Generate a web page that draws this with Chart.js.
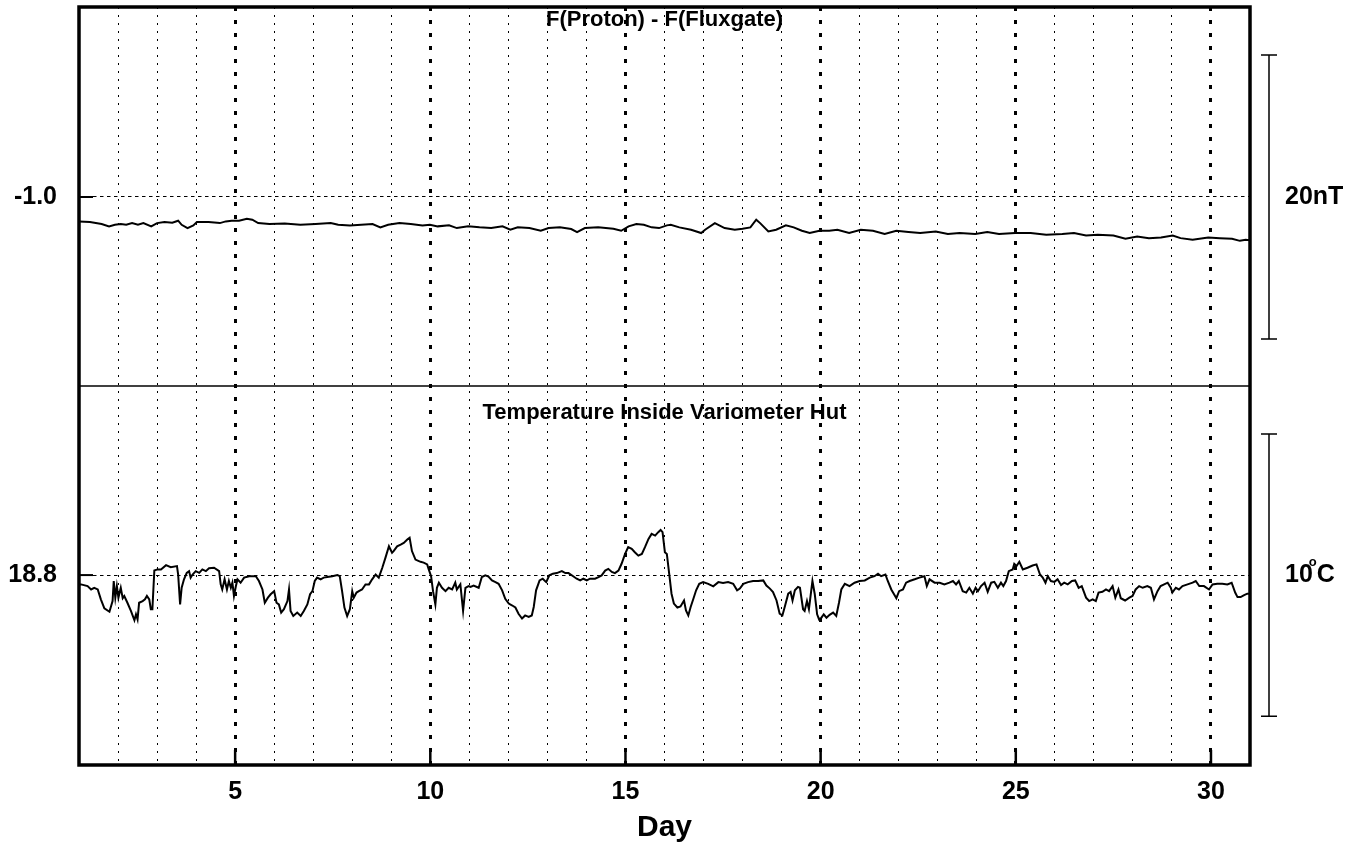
<!DOCTYPE html>
<html>
<head>
<meta charset="utf-8">
<script src="https://cdn.jsdelivr.net/npm/chart.js@4.4.1/dist/chart.umd.min.js"></script>
<style>
  html, body { margin: 0; padding: 0; background: #fff; }
  #caixa { width: 1356px; height: 848px; }
</style>
</head>
<body>
<div id="caixa"><canvas id="grafico"></canvas></div>
<script>
// F(Proton) - F(Fluxgate), nT
const diasFluxo = [
  1.00, 1.28, 1.58, 1.77, 1.92, 2.07, 2.21, 2.36, 2.51, 2.65,
  2.85, 3.00, 3.19, 3.39, 3.54, 3.63, 3.78, 3.93, 4.02, 4.32,
  4.61, 4.76, 4.91, 5.10, 5.30, 5.44, 5.59, 5.88, 6.27, 6.67,
  7.06, 7.45, 7.64, 7.94, 8.23, 8.52, 8.72, 8.92, 9.21, 9.50,
  9.80, 9.99, 10.19, 10.48, 10.68, 10.97, 11.26, 11.56, 11.85, 12.05,
  12.24, 12.54, 12.83, 13.03, 13.32, 13.61, 13.76, 13.96, 14.30, 14.69,
  14.89, 15.08, 15.28, 15.47, 15.67, 15.86, 16.06, 16.16, 16.38, 16.68,
  16.94, 17.04, 17.29, 17.54, 17.80, 18.00, 18.20, 18.35, 18.45, 18.66,
  18.86, 19.11, 19.31, 19.52, 19.72, 19.97, 20.22, 20.43, 20.73, 21.03,
  21.34, 21.64, 21.94, 22.25, 22.55, 22.95, 23.26, 23.56, 23.96, 24.27,
  24.57, 24.98, 25.38, 25.78, 26.19, 26.49, 26.80, 27.10, 27.50, 27.81,
  28.11, 28.41, 28.72, 29.02, 29.22, 29.53, 29.93, 30.23, 30.54, 30.74, 30.89, 31.00
];
const difFluxo = [
  -2.72, -2.77, -2.91, -3.07, -2.96, -2.91, -2.96, -2.84, -2.96, -2.84,
  -3.07, -2.84, -2.77, -2.81, -2.67, -2.96, -3.19, -3.00, -2.77, -2.77,
  -2.84, -2.72, -2.67, -2.67, -2.53, -2.60, -2.84, -2.91, -2.86, -2.96,
  -2.91, -2.84, -2.96, -3.00, -2.96, -2.91, -3.14, -2.96, -2.84, -2.91,
  -3.00, -2.96, -3.07, -3.00, -3.19, -3.07, -3.14, -3.19, -3.07, -3.31,
  -3.14, -3.19, -3.38, -3.19, -3.14, -3.26, -3.47, -3.19, -3.14, -3.24,
  -3.38, -3.07, -2.91, -2.96, -3.14, -3.19, -3.00, -2.96, -3.14, -3.31,
  -3.54, -3.31, -2.84, -3.19, -3.31, -3.24, -3.14, -2.60, -2.84, -3.43,
  -3.31, -3.00, -3.14, -3.38, -3.54, -3.38, -3.38, -3.31, -3.54, -3.31,
  -3.38, -3.61, -3.38, -3.47, -3.54, -3.43, -3.61, -3.54, -3.61, -3.47,
  -3.61, -3.54, -3.54, -3.66, -3.61, -3.54, -3.71, -3.66, -3.71, -3.94,
  -3.78, -3.90, -3.85, -3.71, -3.90, -4.02, -3.85, -3.90, -3.94, -4.09, -4.02, -4.05
];

// Temperature inside variometer hut, deg C
const diasTemp = [
  1.00, 1.05, 1.22, 1.31, 1.39, 1.48, 1.56, 1.65, 1.78, 1.86,
  1.89, 1.93, 1.97, 2.01, 2.07, 2.12, 2.16, 2.24, 2.33, 2.42,
  2.46, 2.50, 2.54, 2.63, 2.69, 2.74, 2.80, 2.84, 2.88, 2.93,
  3.01, 3.10, 3.23, 3.35, 3.51, 3.54, 3.59, 3.63, 3.69, 3.76,
  3.82, 3.86, 3.91, 3.99, 4.08, 4.16, 4.25, 4.33, 4.46, 4.59,
  4.63, 4.67, 4.73, 4.79, 4.84, 4.89, 4.93, 4.97, 5.02, 5.06,
  5.14, 5.23, 5.36, 5.53, 5.61, 5.70, 5.76, 5.84, 5.91, 6.00,
  6.06, 6.12, 6.18, 6.25, 6.34, 6.38, 6.42, 6.49, 6.59, 6.68,
  6.76, 6.85, 6.92, 6.98, 7.04, 7.10, 7.19, 7.27, 7.36, 7.49,
  7.62, 7.68, 7.74, 7.80, 7.87, 7.94, 8.00, 8.04, 8.11, 8.17,
  8.25, 8.34, 8.43, 8.51, 8.60, 8.68, 8.77, 8.85, 8.94, 9.02,
  9.06, 9.15, 9.24, 9.32, 9.41, 9.47, 9.53, 9.62, 9.75, 9.83,
  9.92, 9.96, 10.02, 10.07, 10.13, 10.17, 10.22, 10.30, 10.39, 10.47,
  10.56, 10.64, 10.68, 10.77, 10.84, 10.90, 10.98,
  11.03, 11.11, 11.24, 11.32, 11.41, 11.49, 11.58, 11.67, 11.75, 11.84,
  11.92, 12.01, 12.09, 12.18, 12.26, 12.35, 12.43, 12.52, 12.60, 12.65,
  12.71, 12.80, 12.88, 12.97, 13.05, 13.14, 13.24, 13.37, 13.46, 13.54,
  13.67, 13.75, 13.84, 13.92, 14.01, 14.09, 14.22, 14.31, 14.39, 14.48,
  14.56, 14.65, 14.73, 14.82, 14.90, 14.99, 15.07, 15.16, 15.24, 15.33,
  15.42, 15.50, 15.59, 15.67, 15.76, 15.84, 15.90, 15.95, 16.01, 16.06,
  16.12, 16.18, 16.24, 16.33, 16.41, 16.50, 16.55, 16.61, 16.67, 16.74,
  16.81, 16.89, 16.99, 17.12, 17.25, 17.38, 17.50, 17.63, 17.76, 17.86,
  17.93, 18.02, 18.14, 18.27, 18.40, 18.53, 18.61, 18.70, 18.78, 18.87,
  18.95, 19.02, 19.08, 19.17, 19.23, 19.28, 19.34, 19.42,
  19.47, 19.55, 19.59, 19.65, 19.70, 19.79, 19.85, 19.91, 19.96, 20.02,
  20.08, 20.15, 20.23, 20.32, 20.40, 20.47, 20.53, 20.62, 20.74, 20.87,
  21.00, 21.13, 21.26, 21.38, 21.47, 21.55, 21.66, 21.72, 21.81, 21.94,
  22.01, 22.11, 22.19, 22.28, 22.41, 22.53, 22.66, 22.72, 22.79, 22.92,
  23.05, 23.17, 23.30, 23.39, 23.47, 23.54, 23.64, 23.73, 23.81, 23.90,
  23.97, 24.03, 24.11, 24.20, 24.28, 24.37, 24.45, 24.54, 24.62, 24.68,
  24.75, 24.82, 24.92, 24.96, 25.02, 25.09, 25.18, 25.30, 25.43, 25.53,
  25.62, 25.69, 25.76, 25.82, 25.90, 25.99, 26.07, 26.16, 26.24, 26.33,
  26.44, 26.52, 26.61, 26.69, 26.80, 26.88, 26.97, 27.05, 27.12, 27.22,
  27.31, 27.39, 27.48, 27.55, 27.63, 27.69, 27.80, 27.91, 27.99, 28.07,
  28.16, 28.25, 28.37, 28.46, 28.54, 28.63, 28.71, 28.80, 28.89, 28.97,
  29.01, 29.10, 29.18, 29.27, 29.40, 29.53, 29.61, 29.70, 29.82, 29.95,
  30.04, 30.16, 30.29, 30.42, 30.53, 30.62, 30.68, 30.76, 30.85, 30.93, 31.00
];
const tempCasa = [
  18.47, 18.47, 18.41, 18.29, 18.35, 18.29, 17.94, 17.62, 17.50, 17.88,
  18.59, 18.00, 18.41, 18.00, 18.35, 17.98, 18.06, 17.82, 17.53, 17.20,
  17.41, 17.23, 17.82, 17.88, 17.94, 18.06, 17.94, 17.59, 17.59, 18.96,
  19.00, 19.00, 19.15, 19.08, 19.12, 18.82, 17.76, 18.35, 18.65, 18.88,
  18.94, 18.71, 18.82, 18.94, 18.88, 19.00, 18.94, 19.04, 19.06, 18.94,
  18.47, 18.29, 18.65, 18.29, 18.59, 18.35, 18.53, 18.06, 18.41, 18.65,
  18.53, 18.71, 18.76, 18.76, 18.59, 18.29, 17.82, 18.00, 18.12, 18.23,
  17.82, 17.76, 17.47, 17.59, 17.88, 18.29, 17.53, 17.35, 17.47, 17.35,
  17.53, 17.76, 18.12, 18.23, 18.59, 18.71, 18.65, 18.71, 18.73, 18.76,
  18.80, 18.76, 18.23, 17.65, 17.35, 17.59, 18.23, 18.00, 18.18, 18.23,
  18.29, 18.47, 18.47, 18.65, 18.82, 18.71, 19.06, 19.41, 19.82, 19.59,
  19.65, 19.82, 19.88, 19.94, 20.06, 20.12, 19.65, 19.35, 19.27, 19.24,
  19.18, 19.00, 18.76, 18.23, 17.76, 18.35, 18.53, 18.35, 18.23, 18.35,
  18.29, 18.53, 18.29, 18.47, 17.53, 18.35, 18.41,
  18.38, 18.43, 18.35, 18.73, 18.79, 18.75, 18.61, 18.55, 18.49, 18.26,
  17.96, 17.79, 17.73, 17.65, 17.43, 17.26, 17.37, 17.32, 17.37, 17.67,
  18.26, 18.61, 18.67, 18.55, 18.79, 18.85, 18.87, 18.94, 18.87, 18.87,
  18.75, 18.67, 18.61, 18.67, 18.61, 18.67, 18.67, 18.73, 18.79, 18.96,
  19.02, 18.91, 18.87, 18.96, 19.20, 19.55, 19.79, 19.73, 19.61, 19.49,
  19.55, 19.79, 20.08, 20.26, 20.20, 20.32, 20.40, 20.32, 19.61, 19.55,
  18.85, 18.14, 17.79, 17.65, 17.69, 17.90, 17.55, 17.37, 17.67, 17.96,
  18.26, 18.49, 18.55, 18.49, 18.40, 18.55, 18.52, 18.55, 18.49, 18.26,
  18.32, 18.49, 18.55, 18.59, 18.59, 18.61, 18.43, 18.32, 18.20, 17.90,
  17.43, 17.37, 17.67, 18.14, 18.20, 17.90, 18.26, 18.38,
  18.35, 17.59, 17.53, 17.88, 17.59, 18.59, 18.12, 17.41, 17.23, 17.29,
  17.41, 17.29, 17.39, 17.47, 17.35, 17.82, 18.29, 18.49, 18.41, 18.53,
  18.59, 18.61, 18.71, 18.76, 18.85, 18.76, 18.82, 18.59, 18.29, 17.98,
  18.23, 18.29, 18.53, 18.59, 18.65, 18.71, 18.76, 18.41, 18.65, 18.53,
  18.53, 18.47, 18.53, 18.59, 18.47, 18.59, 18.23, 18.18, 18.35, 18.14,
  18.35, 18.23, 18.41, 18.53, 18.21, 18.53, 18.56, 18.35, 18.53, 18.41,
  18.59, 18.94, 19.00, 19.20, 19.12, 19.27, 19.00, 19.06, 19.14, 19.18,
  18.82, 18.71, 18.53, 18.76, 18.59, 18.56, 18.65, 18.45, 18.53, 18.47,
  18.59, 18.61, 18.35, 18.41, 18.00, 17.88, 17.94, 17.88, 18.18, 18.21,
  18.29, 18.23, 18.41, 18.00, 18.29, 17.98, 17.90, 18.00, 18.06, 18.29,
  18.41, 18.35, 18.41, 18.35, 17.94, 18.23, 18.41, 18.47, 18.53, 18.35,
  18.18, 18.35, 18.29, 18.41, 18.47, 18.53, 18.59, 18.41, 18.41, 18.29,
  18.47, 18.49, 18.49, 18.47, 18.53, 18.18, 18.02, 18.02, 18.09, 18.14, 18.14
];

const ticksDia = [5, 10, 15, 20, 25, 30];
const refFluxo = -1.0;
const refTemp = 18.8;
const escalaFluxo = 20;   // nT
const escalaTemp = 10;    // deg C
const titulos = ['F(Proton) - F(Fluxgate)', 'Temperature Inside Variometer Hut'];

Chart.defaults.font.family = "'Liberation Sans', Arial, sans-serif";
Chart.defaults.color = '#000';

const fonte = "'Liberation Sans', Arial, sans-serif";
const ehMaior = c => c.tick && c.tick.value % 5 === 0;

// moldura, divisoria, titulos dos paineis e barras de escala
const painel = {
    id: 'painel',
    afterDraw(chart) {
        const { ctx, chartArea: a, scales } = chart;
        const yF = scales.yF, yT = scales.yT, x = scales.x;
        ctx.save();
        ctx.strokeStyle = '#000';
        ctx.fillStyle = '#000';

        ctx.lineWidth = 1.5;
        ctx.beginPath();
        ctx.moveTo(a.left, yF.bottom);
        ctx.lineTo(a.right, yF.bottom);
        ctx.stroke();

        ctx.lineWidth = 2.5;
        ticksDia.forEach(d => {
            const px = x.getPixelForValue(d);
            ctx.beginPath();
            ctx.moveTo(px, a.bottom);
            ctx.lineTo(px, a.bottom - 15);
            ctx.stroke();
        });
        ctx.lineWidth = 2;
        [[yF, refFluxo], [yT, refTemp]].forEach(([s, v]) => {
            const py = s.getPixelForValue(v);
            ctx.beginPath();
            ctx.moveTo(a.left, py);
            ctx.lineTo(a.left + 14, py);
            ctx.stroke();
        });

        ctx.lineWidth = 3.5;
        ctx.strokeRect(a.left, a.top, a.right - a.left, a.bottom - a.top);

        const cx = (a.left + a.right) / 2;
        ctx.font = 'bold 22px ' + fonte;
        ctx.textAlign = 'center';
        ctx.textBaseline = 'middle';
        ctx.fillText(titulos[0], cx, yF.top + 13);
        ctx.fillText(titulos[1], cx, yT.top + 27);

        const bx = a.right + 19;
        const barra = (s, centro, meia) => {
            const y1 = s.getPixelForValue(centro + meia);
            const y2 = s.getPixelForValue(centro - meia);
            ctx.lineWidth = 1.5;
            ctx.beginPath();
            ctx.moveTo(bx, y1); ctx.lineTo(bx, y2);
            ctx.moveTo(bx - 8, y1); ctx.lineTo(bx + 8, y1);
            ctx.moveTo(bx - 8, y2); ctx.lineTo(bx + 8, y2);
            ctx.stroke();
        };
        barra(yF, refFluxo, escalaFluxo / 2);
        barra(yT, refTemp, escalaTemp / 2);

        const tx = a.right + 35;
        ctx.textAlign = 'left';
        ctx.font = 'bold 25px ' + fonte;
        ctx.fillText(escalaFluxo + 'nT', tx, yF.getPixelForValue(refFluxo));
        const yc = yT.getPixelForValue(refTemp);
        const num = String(escalaTemp);
        const w = ctx.measureText(num).width;
        ctx.fillText(num, tx, yc);
        ctx.fillText('C', tx + w + 4, yc);
        ctx.font = 'bold 13px ' + fonte;
        ctx.fillText('o', tx + w - 4, yc - 13);
        ctx.restore();
    }
};

const eixoY = (ref, min, max) => ({
    type: 'linear',
    position: 'left',
    stack: 'paineis',
    stackWeight: 1,
    min: min,
    max: max,
    afterBuildTicks: s => { s.ticks = [{ value: ref }]; },
    afterFit: s => { s.width = 79; s.paddingTop = 0; s.paddingBottom = 0; },
    ticks: {
        font: { size: 25, weight: 'bold' },
        padding: 22,
        callback: v => Number(v).toFixed(1)
    },
    grid: { color: '#000', lineWidth: 1, drawTicks: false },
    border: { display: false, dash: [3.5, 3.5] }
});

new Chart(document.getElementById('grafico'), {
    type: 'line',
    data: {
        datasets: [
            {
                label: titulos[1],
                data: diasTemp.map((d, i) => ({ x: d, y: tempCasa[i] })),
                yAxisID: 'yT',
                borderColor: '#000',
                borderWidth: 2,
                pointRadius: 0,
                tension: 0
            },
            {
                label: titulos[0],
                data: diasFluxo.map((d, i) => ({ x: d, y: difFluxo[i] })),
                yAxisID: 'yF',
                borderColor: '#000',
                borderWidth: 2,
                pointRadius: 0,
                tension: 0
            }
        ]
    },
    options: {
        responsive: true,
        maintainAspectRatio: false,
        animation: false,
        layout: { padding: { top: 7, right: 106, bottom: 0, left: 0 } },
        plugins: {
            legend: { display: false },
            tooltip: { enabled: false }
        },
        scales: {
            x: {
                type: 'linear',
                min: 1,
                max: 31,
                afterFit: s => { s.height = 83; s.paddingLeft = 0; s.paddingRight = 0; },
                ticks: {
                    stepSize: 1,
                    autoSkip: false,
                    maxRotation: 0,
                    padding: 12,
                    font: { size: 25, weight: 'bold' },
                    callback: v => (v % 5 === 0 ? String(v) : '')
                },
                grid: {
                    color: '#000',
                    drawTicks: false,
                    lineWidth: c => (ehMaior(c) ? 3 : 1)
                },
                border: {
                    display: false,
                    dash: c => (ehMaior(c) ? [4, 9] : [2, 6])
                },
                title: {
                    display: true,
                    text: 'Day',
                    font: { size: 30, weight: 'bold' },
                    padding: { top: 0, bottom: 2 }
                }
            },
            yT: eixoY(refTemp, 12.07, 25.50),
            yF: eixoY(refFluxo, -14.32, 12.39)
        }
    },
    plugins: [painel]
});
</script>
</body>
</html>
